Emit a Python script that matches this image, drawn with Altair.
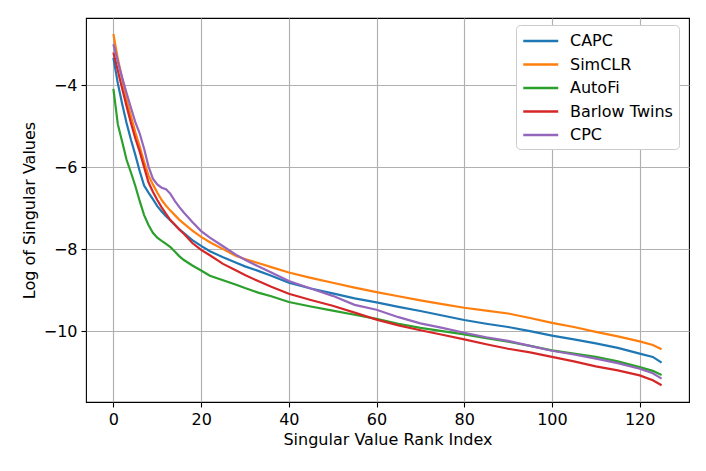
import altair as alt
import pandas as pd

x_idx = [0, 1, 2, 3, 4, 5, 6, 7, 8, 9, 10, 11, 12, 13, 14, 15, 16, 18, 20, 22, 25, 28, 30, 33, 36, 40,
         45, 50, 55, 60, 65, 70, 75, 80, 85, 90, 95, 100, 105, 110, 115, 120, 123, 125]

capc = [-3.33, -3.95, -4.46, -4.92, -5.33, -5.70, -6.10, -6.45, -6.62, -6.78, -6.95, -7.08, -7.20, -7.30,
        -7.41, -7.51, -7.60, -7.78, -7.92, -8.05, -8.20, -8.33, -8.42, -8.53, -8.65, -8.82,
        -8.96, -9.08, -9.20, -9.30, -9.41, -9.51, -9.62, -9.73, -9.82, -9.90, -10.00, -10.11, -10.20,
        -10.30, -10.41, -10.55, -10.63, -10.77]
simclr = [-2.75, -3.35, -3.85, -4.35, -4.75, -5.15, -5.50, -5.87, -6.20, -6.42, -6.62, -6.80, -6.94, -7.06,
          -7.17, -7.28, -7.37, -7.55, -7.70, -7.83, -8.00, -8.17, -8.24, -8.34, -8.44, -8.57,
          -8.70, -8.82, -8.94, -9.05, -9.15, -9.25, -9.34, -9.43, -9.50, -9.57, -9.68, -9.80, -9.90,
          -10.02, -10.13, -10.25, -10.34, -10.44]
autofi = [-4.09, -4.95, -5.38, -5.82, -6.13, -6.46, -6.83, -7.17, -7.41, -7.60, -7.72, -7.80, -7.87, -7.95,
          -8.06, -8.17, -8.26, -8.40, -8.52, -8.65, -8.76, -8.87, -8.95, -9.06, -9.15, -9.29,
          -9.40, -9.50, -9.60, -9.70, -9.82, -9.92, -10.00, -10.08, -10.17, -10.26, -10.36, -10.47, -10.55,
          -10.63, -10.74, -10.88, -10.97, -11.07]
barlow = [-3.20, -3.64, -4.08, -4.51, -4.92, -5.30, -5.62, -6.00, -6.37, -6.60, -6.80, -6.98, -7.14, -7.29,
          -7.40, -7.52, -7.62, -7.85, -8.02, -8.15, -8.36, -8.52, -8.63, -8.78, -8.92, -9.09,
          -9.24, -9.38, -9.55, -9.72, -9.86, -9.98, -10.09, -10.20, -10.32, -10.43, -10.52, -10.63, -10.74,
          -10.86, -10.96, -11.08, -11.20, -11.32]
cpc = [-3.00, -3.42, -3.81, -4.19, -4.55, -4.90, -5.18, -5.55, -5.98, -6.28, -6.42, -6.50, -6.54, -6.65,
       -6.82, -6.97, -7.10, -7.34, -7.56, -7.72, -7.93, -8.14, -8.26, -8.42, -8.57, -8.78,
       -8.96, -9.14, -9.36, -9.48, -9.66, -9.81, -9.92, -10.04, -10.15, -10.24, -10.36, -10.48, -10.57,
       -10.67, -10.78, -10.92, -11.03, -11.16]

series_names = ["CAPC", "SimCLR", "AutoFi", "Barlow Twins", "CPC"]
series_vals = [capc, simclr, autofi, barlow, cpc]
colors = ["#1f77b4", "#ff7f0e", "#2ca02c", "#d62728", "#9467bd"]

x_ticks = [0, 20, 40, 60, 80, 100, 120]
y_ticks = [-4, -6, -8, -10]

rows = []
for order, (name, vals) in enumerate(zip(series_names, series_vals)):
    for xi, v in zip(x_idx, vals):
        rows.append({"rank": xi, "value": v, "method": name, "order": order})
df = pd.DataFrame(rows)

FONT = "DejaVu Sans"
FS = 16

chart = alt.Chart(df).mark_line(strokeWidth=2.2, clip=True).encode(
    x=alt.X("rank:Q",
            scale=alt.Scale(domain=[-6.25, 131.25], nice=False, zero=False),
            axis=alt.Axis(values=x_ticks, title="Singular Value Rank Index", format="d",
                          titlePadding=4)),
    y=alt.Y("value:Q",
            scale=alt.Scale(domain=[-11.73, -2.36], nice=False, zero=False),
            axis=alt.Axis(values=y_ticks, title="Log of Singular Values", format="d",
                          titlePadding=6)),
    color=alt.Color("method:N",
                    scale=alt.Scale(domain=series_names, range=colors),
                    sort=series_names,
                    legend=alt.Legend(title=None, orient="none", legendX=430, legendY=7,
                                      symbolType="M-1,0L3,0", symbolSize=306,
                                      symbolStrokeWidth=2.5, labelFontSize=FS, labelFont=FONT,
                                      labelColor="black", labelOffset=28, rowPadding=5.5,
                                      padding=6, fillColor="white", strokeColor="#cccccc",
                                      cornerRadius=4)),
    order=alt.Order("order:Q"),
    detail="method:N",
).properties(
    width=603, height=384,
    autosize=alt.AutoSizeParams(type="none"),
    padding={"left": 78, "top": 10, "right": 9, "bottom": 60},
).configure_view(
    stroke="black", strokeWidth=1.1
).configure_axis(
    grid=True, gridColor="#b0b0b0", gridWidth=1.15,
    domain=False,
    tickColor="black", tickSize=5, tickWidth=1.1,
    labelFont=FONT, labelFontSize=FS, labelColor="black", labelPadding=4,
    titleFont=FONT, titleFontSize=FS, titleColor="black", titleFontWeight="normal",
)

chart.save("out.html", embed_options={"renderer": "svg", "actions": False})
